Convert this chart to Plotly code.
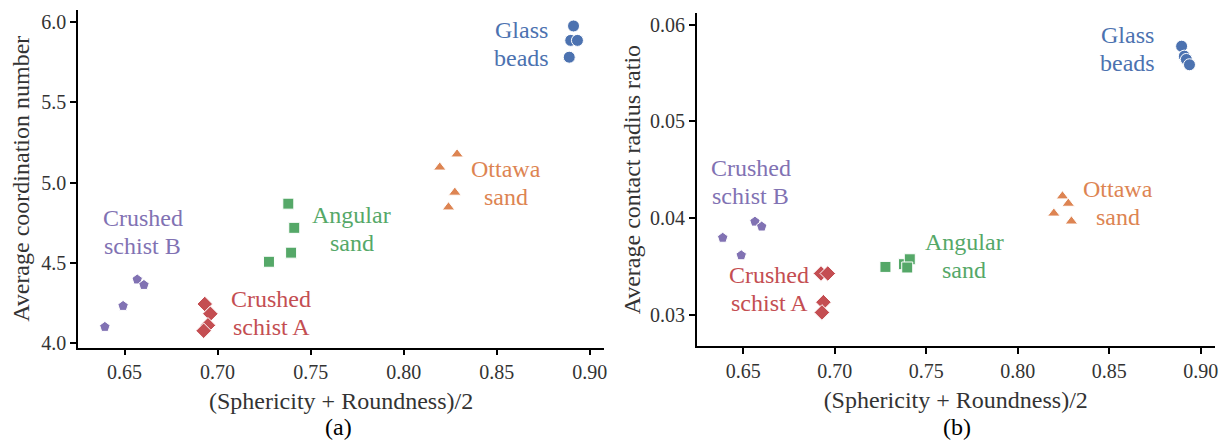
import plotly.graph_objects as go
from plotly.subplots import make_subplots

groups = ["Crushed schist B", "Crushed schist A", "Angular sand", "Ottawa sand", "Glass beads"]
colors = ["#8172B3", "#C44E52", "#55A868", "#DD8452", "#4C72B0"]
symbols = ["pentagon", "diamond", "square", "triangle-up", "circle"]
sizes = [11, 12, 11, 11, 12]

# (Sphericity + Roundness)/2 and results, panel (a)
x_a = {
    "Crushed schist B": [0.6394, 0.6492, 0.6568, 0.6604],
    "Crushed schist A": [0.6931, 0.6961, 0.6948, 0.6925],
    "Angular sand": [0.7380, 0.7412, 0.7395, 0.7276],
    "Ottawa sand": [0.8287, 0.8194, 0.8275, 0.8241],
    "Glass beads": [0.8913, 0.8898, 0.8934, 0.8890],
}
coord_number = {
    "Crushed schist B": [4.098, 4.229, 4.394, 4.360],
    "Crushed schist A": [4.241, 4.180, 4.108, 4.074],
    "Angular sand": [4.868, 4.717, 4.562, 4.505],
    "Ottawa sand": [5.177, 5.095, 4.938, 4.846],
    "Glass beads": [5.978, 5.888, 5.888, 5.783],
}
# panel (b)
x_b = {
    "Crushed schist B": [0.6388, 0.6489, 0.6564, 0.6601],
    "Crushed schist A": [0.6925, 0.6962, 0.6938, 0.6930],
    "Angular sand": [0.7277, 0.7378, 0.7410, 0.7396],
    "Ottawa sand": [0.8244, 0.8276, 0.8197, 0.8293],
    "Glass beads": [0.8895, 0.8910, 0.8921, 0.8938],
}
contact_ratio = {
    "Crushed schist B": [0.03796, 0.03615, 0.03963, 0.03912],
    "Crushed schist A": [0.03427, 0.03427, 0.03130, 0.03024],
    "Angular sand": [0.03495, 0.03523, 0.03574, 0.03489],
    "Ottawa sand": [0.04227, 0.04151, 0.04049, 0.03967],
    "Glass beads": [0.05778, 0.05675, 0.05641, 0.05586],
}

label_lines = {
    "Crushed schist B": ["Crushed", "schist B"],
    "Crushed schist A": ["Crushed", "schist A"],
    "Angular sand": ["Angular", "sand"],
    "Ottawa sand": ["Ottawa", "sand"],
    "Glass beads": ["Glass", "beads"],
}
label_pos_a = {
    "Crushed schist B": (0.6597, 4.69),
    "Crushed schist A": (0.7287, 4.186),
    "Angular sand": (0.7722, 4.711),
    "Ottawa sand": (0.8550, 4.997),
    "Glass beads": (0.8636, 5.865),
}
label_pos_b = {
    "Crushed schist B": (0.6541, 0.04373),
    "Crushed schist A": (0.6642, 0.03263),
    "Angular sand": (0.7707, 0.03605),
    "Ottawa sand": (0.8547, 0.04158),
    "Glass beads": (0.8600, 0.05754),
}

FONT = "Liberation Serif, Times New Roman, serif"
W, H = 1220, 436   # page body has an 8px margin

fig = make_subplots(rows=1, cols=2)

for g, c, s, sz in zip(groups, colors, symbols, sizes):
    fig.add_trace(go.Scatter(x=x_a[g], y=coord_number[g], mode="markers", name=g,
                             marker=dict(color=c, symbol=s, size=sz, line=dict(color="white", width=1)),
                             showlegend=False), row=1, col=1)
    fig.add_trace(go.Scatter(x=x_b[g], y=contact_ratio[g], mode="markers", name=g,
                             marker=dict(color=c, symbol=s, size=sz, line=dict(color="white", width=1)),
                             showlegend=False), row=1, col=2)
    for (xr, yr, pos) in (("x", "y", label_pos_a[g]), ("x2", "y2", label_pos_b[g])):
        for line, shift in zip(label_lines[g], (14, -14)):
            fig.add_annotation(x=pos[0], y=pos[1], xref=xr, yref=yr, yshift=shift,
                               text=line, showarrow=False, xanchor="center", yanchor="middle",
                               font=dict(family=FONT, size=24, color=c))

axis_common = dict(showline=True, linecolor="black", linewidth=1.5, ticks="outside",
                   ticklen=6, tickwidth=1.5, tickcolor="black", showgrid=False, zeroline=False,
                   tickfont=dict(family=FONT, size=20, color="#333333"),
                   title_font=dict(family=FONT, size=24, color="#333333"))

xt = [0.65, 0.70, 0.75, 0.80, 0.85, 0.90]
fig.update_xaxes(**axis_common, range=[0.625, 0.9077], tickvals=xt, tickformat=".2f",
                 domain=[70.3/W, 598/W], anchor="y",
                 title_text="(Sphericity + Roundness)/2", title_standoff=10, row=1, col=1)
fig.update_xaxes(**axis_common, range=[0.6246, 0.9076], tickvals=xt, tickformat=".2f",
                 domain=[691/W, 1210.7/W], anchor="y2",
                 title_text="(Sphericity + Roundness)/2", title_standoff=10, row=1, col=2)
fig.update_yaxes(**axis_common, range=[3.969, 6.078], tickvals=[4.0, 4.5, 5.0, 5.5, 6.0],
                 tickformat=".1f", domain=[1-344.3/H, 1-2/H],
                 title_text="Average coordination number", title_standoff=8, row=1, col=1)
fig.update_yaxes(**axis_common, range=[0.02677, 0.06119], tickvals=[0.03, 0.04, 0.05, 0.06],
                 tickformat=".2f", domain=[1-342.7/H, 1-5.3/H],
                 title_text="Average contact radius ratio", title_standoff=3, row=1, col=2)

fig.add_annotation(x=332/W, y=1-425/H, xref="paper", yref="paper", text="(a)",
                   xanchor="center", yanchor="middle",
                   showarrow=False, font=dict(family=FONT, size=24, color="black"))
fig.add_annotation(x=952/W, y=1-425/H, xref="paper", yref="paper", text="(b)",
                   xanchor="center", yanchor="middle",
                   showarrow=False, font=dict(family=FONT, size=24, color="black"))

fig.update_layout(width=W, height=H, margin=dict(l=0, r=0, t=0, b=0),
                  plot_bgcolor="white", paper_bgcolor="white")

fig.write_html("out.html")
